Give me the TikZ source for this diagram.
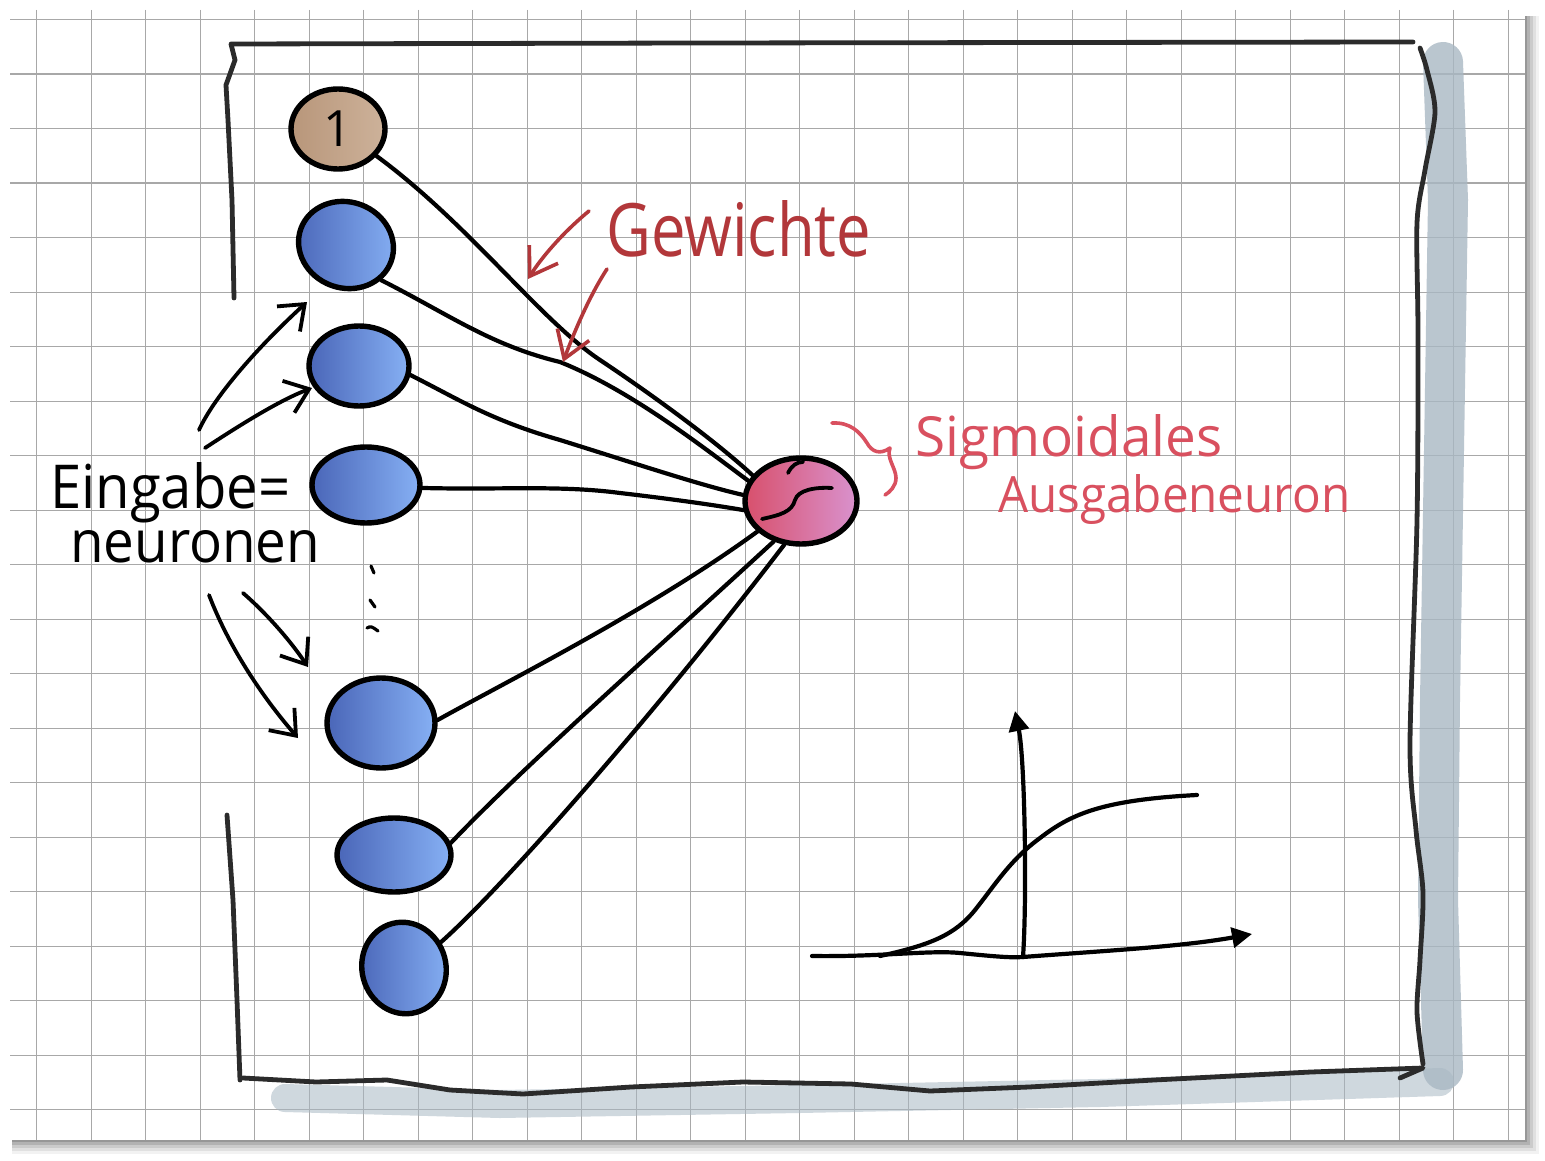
\documentclass[tikz,border=0pt]{standalone}
\usepackage{fontspec}
\usepackage{graphicx}
\setmainfont{Open Sans}
\usetikzlibrary{shapes.geometric,arrows.meta}
\definecolor{gridc}{HTML}{A8A8A8}
\definecolor{framec}{HTML}{2B2B2B}
\definecolor{shadowc}{HTML}{A9B8C3}
\definecolor{gewc}{HTML}{B2373A}
\definecolor{sigc}{HTML}{D9505F}
\definecolor{bluedark}{HTML}{4A66B8}
\definecolor{bluelight}{HTML}{86B0F4}
\definecolor{tandark}{HTML}{B8967A}
\definecolor{tanlight}{HTML}{CDB29A}
\definecolor{reddark}{HTML}{D8506C}
\definecolor{pinklight}{HTML}{D992CE}
\tikzset{
  gridline/.style={draw=gridc, line width=1.4pt},
  frameline/.style={draw=framec, line width=4.8pt, line cap=round, line join=round},
  neuron/.style={ellipse, draw=black, line width=5.4pt, inner sep=0pt},
  inneuron/.style={neuron, left color=bluedark, right color=bluelight},
  biasneuron/.style={neuron, left color=tandark, right color=tanlight},
  outneuron/.style={neuron, left color=reddark, right color=pinklight},
  conn/.style={draw=black, line width=4.2pt, line cap=round},
  hand/.style={draw=black, line width=3.8pt, line cap=round, line join=round,
    -{Straight Barb[length=22pt,width=34pt,line width=3.8pt]}},
  redarrow/.style={draw=gewc, line width=3.6pt, line cap=round, line join=round,
    -{Straight Barb[length=26pt,width=34pt,line width=3.6pt]}},
  axis/.style={draw=black, line width=4.2pt, line cap=round,
    -{Triangle[length=20pt,width=20pt]}},
  label/.style={anchor=base west, inner sep=0pt},
}
\begin{document}
\begin{tikzpicture}[x=1pt,y=-1pt]
\useasboundingbox (0,0) rectangle (1545,1161);
\fill[white] (0,0) rectangle (1545,1161);
% card shadow
\foreach \o/\a in {14/0.05,11/0.07,8/0.09,5/0.12,2/0.15}
  \fill[black,opacity=\a] (12,16) rectangle ({1525+\o},{1140+\o});
\fill[white] (10,10) rectangle (1525,1140);
% grid
\foreach \i in {0,...,27}
  \draw[gridline] ({36.7+54.5*\i},10) -- ({36.7+54.5*\i},1140);
\foreach \j in {0,...,20}
  \draw[gridline] (10,{19.7+54.5*\j}) -- (1525,{19.7+54.5*\j});
% frame shadow
\draw[shadowc, line width=40pt, line cap=round, line join=round, opacity=.8]
  (1443,62) -- (1448,200) -- (1444,450) -- (1440,700) -- (1438,900) -- (1443,1070);
\draw[shadowc, line width=28pt, line cap=round, line join=round, opacity=.55]
  (285,1098) -- (500,1104) -- (800,1099) -- (1100,1093) -- (1440,1082);
% frame
\draw[frameline] (234,298) -- (232,200) -- (228,120) -- (226,85) -- (235,60) -- (231,44) -- (700,43) -- (1413,42);
\draw[frameline] plot[smooth, tension=.5] coordinates {(1420,48) (1427,70) (1435,112) (1425,170) (1417,223) (1418,335) (1417,521) (1410,744) (1416,830) (1423,893) (1420,960) (1417,1012) (1423,1064)};
\draw[frameline] (227,815) -- (233,900) -- (237,1000) -- (240,1080);
\draw[frameline] (243,1078) -- (316,1082) -- (387,1080) -- (450,1090) -- (523,1094) -- (631,1087) -- (743,1082) -- (851,1084) -- (930,1091) -- (1029,1087) -- (1154,1080) -- (1311,1072) -- (1423,1068) -- (1400,1078);
% neurons
\node[biasneuron, minimum width=94pt, minimum height=80pt] (b) at (338,129) {\fontsize{50}{50}\selectfont 1};
\node[inneuron, minimum width=96pt, minimum height=86pt, rotate=-20] (n2) at (346,245) {};
\node[inneuron, minimum width=100pt, minimum height=80pt] (n3) at (359,366) {};
\node[inneuron, minimum width=108pt, minimum height=76pt] (n4) at (366,485) {};
\node[inneuron, minimum width=108pt, minimum height=90pt] (n5) at (381,723) {};
\node[inneuron, minimum width=114pt, minimum height=74pt] (n6) at (394,855) {};
\node[inneuron, minimum width=84pt, minimum height=92pt, rotate=15] (n7) at (404,968) {};
\node[outneuron, minimum width=112pt, minimum height=86pt] (o) at (801,501) {};
% squiggle inside output neuron
\draw[black, line width=3.8pt, line cap=round] (762,519) .. controls (780,515) and (792,512) .. (795,500) .. controls (798,490) and (815,487) .. (832,488);
\draw[black, line width=3.8pt, line cap=round] (788,473) .. controls (792,465) and (797,462) .. (803,462);
% dots
\draw[black, line width=3.2pt, line cap=round] (371,566) -- (374,573);
\draw[black, line width=3.2pt, line cap=round] (370,600) -- (375,607);
\draw[black, line width=3.2pt, line cap=round] (367,628) .. controls (371,626) .. (378,631);
% connectors
\draw[conn] (b.-35) .. controls (470,225) and (540,320) .. (600,360) .. controls (660,400) and (720,445) .. (o.152);
\draw[conn] (n2.-25) .. controls (450,315) and (490,345) .. (560,362) .. controls (630,390) and (700,445) .. (o.159);
\draw[conn] (n3.-10) .. controls (460,400) and (490,420) .. (560,440) .. controls (640,465) and (700,485) .. (o.174);
\draw[conn] (n4.-3) .. controls (500,490) and (560,485) .. (620,493) .. controls (680,500) and (720,506) .. (o.189);
\draw[conn] (n5.3) .. controls (500,685) and (650,610) .. (o.215);
\draw[conn] (n6.12) .. controls (520,770) and (650,655) .. (o.236);
\draw[conn] (n7.20) .. controls (500,890) and (650,720) .. (o.249);
% labels
\node[label] (ein) at (50,508) {\resizebox{240pt}{46pt}{Eingabe=}};
\node[label] (neur) at (70,562) {\resizebox{250pt}{32pt}{neuronen}};
\node[label, text=gewc] (gew) at (606,256) {\resizebox{265pt}{56pt}{Gewichte}};
\node[label, text=sigc] (sig) at (915,456) {\resizebox{307pt}{42pt}{Sigmoidales}};
\node[label, text=sigc] (aus) at (998,512) {\resizebox{352pt}{38pt}{Ausgabeneuron}};
% hand arrows from the input label
\coordinate (a1) at (199,430);
\coordinate (a2) at (205,448);
\coordinate (a3) at (209,595);
\coordinate (a4) at (243,593);
\draw[hand] (a1) .. controls (215,395) and (260,345) .. (307,302);
\draw[hand] (a2) .. controls (240,425) and (280,400) .. (312,388);
\draw[hand] (a3) .. controls (230,650) and (265,700) .. (298,738);
\draw[hand] (a4) .. controls (265,612) and (290,640) .. (308,667);
% red arrows from "Gewichte"
\coordinate (g1) at (589,211);
\coordinate (g2) at (607,269);
\draw[redarrow] (g1) .. controls (560,235) and (540,260) .. (528,279);
\draw[redarrow] (g2) .. controls (590,295) and (575,330) .. (563,362);
% brace to output label
\draw[sigc, line width=3.6pt, line cap=round, line join=round]
  (832,423) .. controls (850,422) and (860,432) .. (867,443) .. controls (872,452) and (880,455) .. (890,448)
  .. controls (886,458) and (896,468) .. (896,478) .. controls (896,486) and (890,492) .. (885,495);
% sigmoid plot
\coordinate (org) at (1023,957);
\coordinate (xtip) at (1252,934);
\coordinate (ytip) at (1015,711);
\draw[black, line width=4.2pt, line cap=round] (812,956) .. controls (880,957) and (930,950) .. (960,953) .. controls (990,956) and (1010,958) .. (org);
\draw[axis] (org) .. controls (1100,951) and (1180,947) .. (xtip);
\draw[axis] (org) .. controls (1027,900) and (1025,760) .. (ytip);
\draw[black, line width=4.2pt, line cap=round] (880,956) .. controls (930,945) and (955,935) .. (975,910) .. controls (995,885) and (1010,860) .. (1040,838) .. controls (1070,815) and (1100,800) .. (1197,795);
\end{tikzpicture}
\end{document}
